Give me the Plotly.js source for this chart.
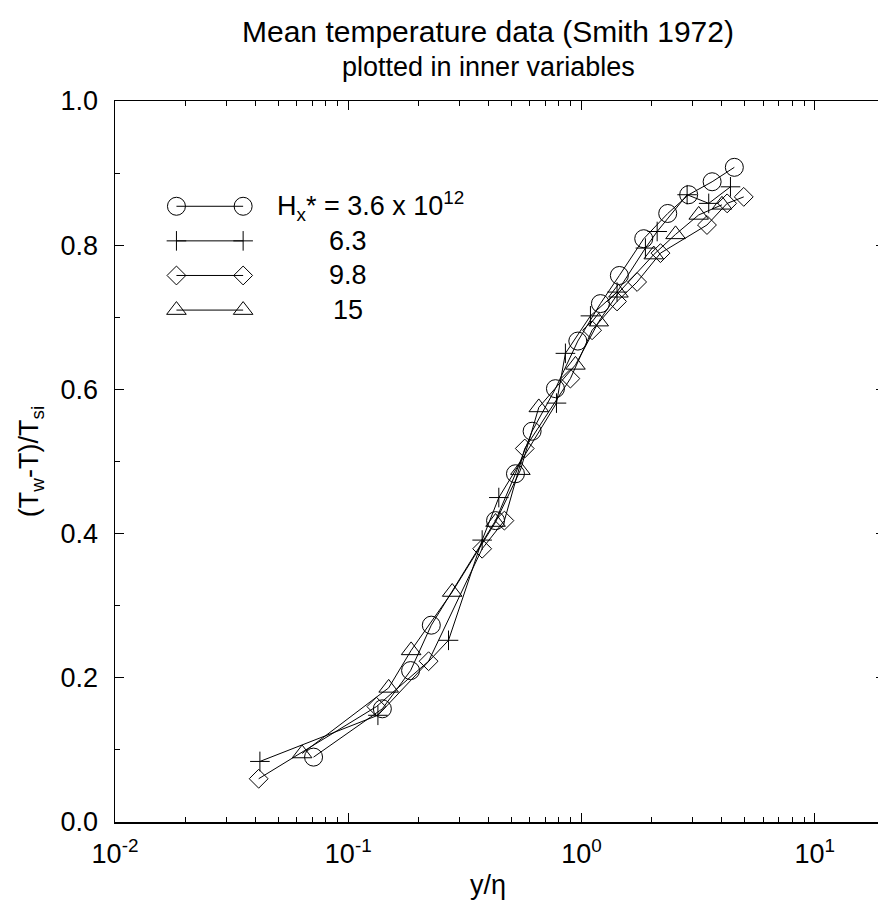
<!DOCTYPE html>
<html><head><meta charset="utf-8">
<script src="https://cdn.plot.ly/plotly-3.0.1.min.js"></script>
<style>html,body{margin:0;padding:0;overflow:hidden;background:#fff}#chart{width:890px;height:903px}</style>
</head><body><div id="chart"></div>
<script>
// ---- data ----
const seriesLabels = ["H<sub>x</sub>* = 3.6 x 10<sup>12</sup>", "6.3", "9.8", "15"];
const symbols = ["circle-open", "cross-thin-open", "diamond-open", "triangle-up-open"];

const xCircle = [0.071, 0.140, 0.185, 0.227, 0.428, 0.521, 0.614, 0.773, 0.964, 1.205, 1.453, 1.848, 2.342, 2.88, 3.63, 4.52];
const yCircle = [0.090, 0.157, 0.210, 0.273, 0.418, 0.483, 0.542, 0.601, 0.667, 0.719, 0.758, 0.809, 0.844, 0.870, 0.888, 0.908];

const xPlus = [0.0418, 0.134, 0.269, 0.375, 0.442, 0.781, 0.853, 1.092, 1.42, 1.879, 2.11, 2.836, 3.51, 4.35];
const yPlus = [0.084, 0.148, 0.252, 0.391, 0.450, 0.581, 0.650, 0.702, 0.735, 0.796, 0.819, 0.870, 0.858, 0.881];

const xDiamond = [0.0413, 0.132, 0.221, 0.375, 0.467, 0.571, 0.896, 1.11, 1.42, 1.731, 2.18, 3.45, 4.21, 4.96];
const yDiamond = [0.060, 0.160, 0.223, 0.379, 0.418, 0.518, 0.615, 0.682, 0.722, 0.749, 0.789, 0.828, 0.858, 0.867];

const xTriangle = [0.0634, 0.149, 0.186, 0.279, 0.428, 0.547, 0.656, 0.942, 1.185, 1.44, 2.04, 2.53, 3.18, 4.00];
const yTriangle = [0.095, 0.186, 0.238, 0.319, 0.416, 0.488, 0.575, 0.634, 0.694, 0.734, 0.787, 0.815, 0.842, 0.856];

const xTickVals = [0.01, 0.1, 1, 10];
const xTickText = ["10<sup>-2</sup>", "10<sup>-1</sup>", "10<sup>0</sup>", "10<sup>1</sup>"];

// ---- style ----
const FONT = "Liberation Sans, Arial, Helvetica, sans-serif";
const markerSizes = [18, 14, 14.5, 17];
const xs = [xCircle, xPlus, xDiamond, xTriangle];
const ys = [yCircle, yPlus, yDiamond, yTriangle];

// log minor tick positions (2..9 in each decade)
const minorX = [];
for (let e = -2; e <= 1; e++) for (let d = 2; d <= 9; d++) minorX.push(d * Math.pow(10, e));

const traces = [];
for (let i = 0; i < 4; i++) {
  traces.push({
    type: "scatter", mode: "lines+markers", x: xs[i], y: ys[i], name: seriesLabels[i],
    line: {color: "#000", width: 1},
    marker: {symbol: symbols[i], size: markerSizes[i], color: "#000", line: {width: 1, color: "#000"}},
    showlegend: false, cliponaxis: false
  });
}
// hand-made legend keys (symbol - line - symbol) on an overlay axis
const legX = [0.0798, 0.1664];
const legTop = 0.854, legStep = 0.048;
const annotations = [];
for (let i = 0; i < 4; i++) {
  const yy = legTop - i * legStep;
  traces.push({
    type: "scatter", mode: "lines+markers", x: legX, y: [yy, yy], xaxis: "x2", yaxis: "y2",
    line: {color: "#000", width: 1},
    marker: {symbol: symbols[i], size: markerSizes[i], color: "#000", line: {width: 1, color: "#000"}},
    showlegend: false, hoverinfo: "skip", cliponaxis: false
  });
  annotations.push({
    xref: "x2", yref: "y2", x: i === 0 ? 0.2075 : 0.302, y: yy,
    xanchor: i === 0 ? "left" : "center", yanchor: "middle", showarrow: false,
    text: seriesLabels[i], font: {family: FONT, size: 27, color: "#000"}
  });
}
annotations.push({xref: "paper", yref: "paper", x: 0.485, y: 1.096, showarrow: false,
  xanchor: "center", yanchor: "middle", text: "Mean temperature data (Smith 1972)",
  font: {family: FONT, size: 30, color: "#000"}});
annotations.push({xref: "paper", yref: "paper", x: 0.485, y: 1.047, showarrow: false,
  xanchor: "center", yanchor: "middle", text: "plotted in inner variables",
  font: {family: FONT, size: 27, color: "#000"}});
annotations.push({xref: "paper", yref: "paper", x: 0.485, y: -0.088, showarrow: false,
  xanchor: "center", yanchor: "middle", text: "y/η",
  font: {family: FONT, size: 27, color: "#000"}});

const layout = {
  width: 890, height: 903,
  margin: {l: 114.5, r: 5, t: 101, b: 81},
  paper_bgcolor: "#fff", plot_bgcolor: "#fff",
  font: {family: FONT, size: 27, color: "#000"},
  showlegend: false,
  xaxis: {
    type: "log", range: [-2, Math.log10(20)],
    tickmode: "array", tickvals: xTickVals, ticktext: xTickText,
    ticks: "inside", ticklen: 9, tickwidth: 1, tickcolor: "#000",
    minor: {tickmode: "array", tickvals: minorX, ticks: "inside", ticklen: 5, tickwidth: 1, tickcolor: "#000", showgrid: false},
    showline: true, linecolor: "#000", linewidth: 1.5, mirror: "ticks",
    showgrid: false, zeroline: false,
    tickfont: {family: FONT, size: 27, color: "#000"},
    ticklabelstandoff: 7,
    automargin: false
  },
  yaxis: {
    range: [0, 1], dtick: 0.2, tick0: 0, tickformat: ".1f",
    ticks: "inside", ticklen: 9, tickwidth: 1, tickcolor: "#000",
    minor: {ticks: "inside", ticklen: 5, tickwidth: 1, tickcolor: "#000", dtick: 0.1, showgrid: false},
    showline: true, linecolor: "#000", linewidth: 1.5, mirror: "ticks",
    showgrid: false, zeroline: false,
    tickfont: {family: FONT, size: 27, color: "#000"},
    ticklabelstandoff: 10,
    title: {text: "(T<sub>w</sub>-T)/T<sub>si</sub>", font: {family: FONT, size: 27, color: "#000"}, standoff: 14},
    automargin: false
  },
  xaxis2: {overlaying: "x", range: [0, 1], visible: false, fixedrange: true},
  yaxis2: {overlaying: "y", range: [0, 1], visible: false, fixedrange: true},
  annotations: annotations
};
Plotly.newPlot("chart", traces, layout, {displayModeBar: false, staticPlot: true});
</script></body></html>
